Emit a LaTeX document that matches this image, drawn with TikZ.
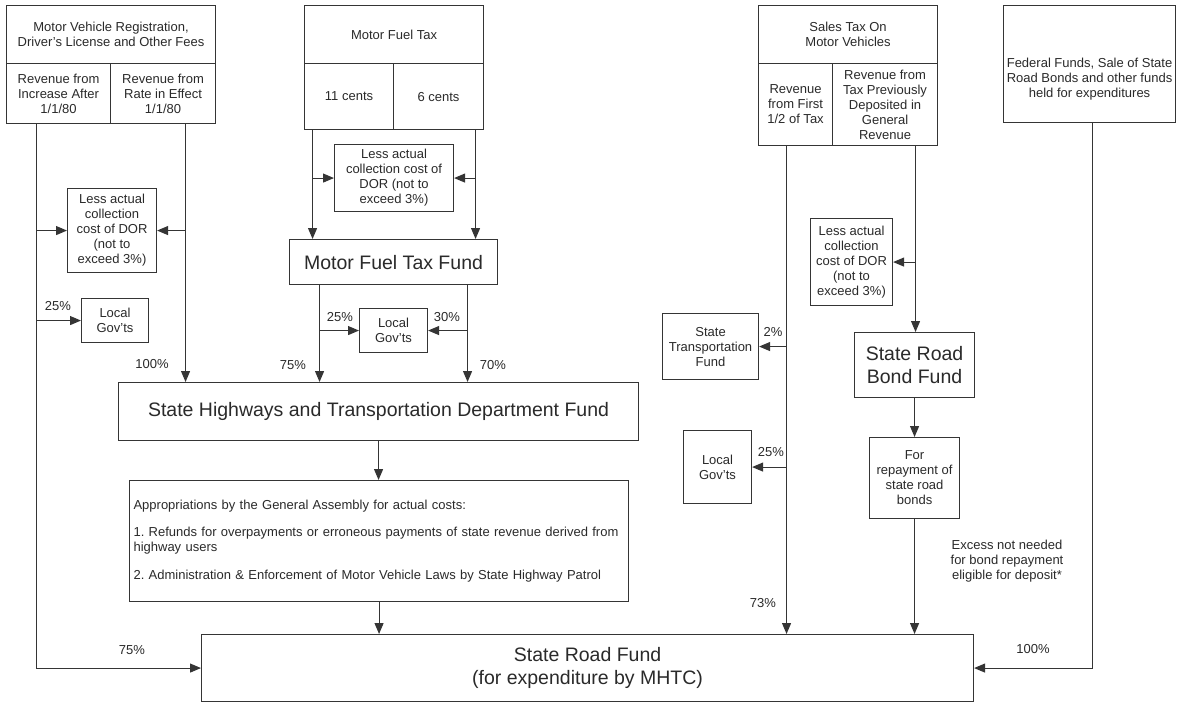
\documentclass[tikz,border=0pt]{standalone}
\usepackage{fontspec}
\setmainfont{Liberation Sans}
\usetikzlibrary{arrows.meta,calc}
\definecolor{ink}{HTML}{2A2A2A}
\definecolor{lc}{HTML}{353535}
\newcommand\smfont{\fontsize{13}{15}\selectfont}
\newcommand\bgfont{\fontsize{19.5}{22.5}\selectfont}
\frenchspacing
\begin{document}
\begin{tikzpicture}[x=1pt,y=-1pt,
  box/.style={draw=lc,line width=1.1pt,inner sep=0pt,align=center,anchor=north west,text=ink,font=\smfont},
  lbl/.style={inner sep=0pt,align=center,text=ink,font=\smfont},
  arr/.style={draw=lc,line width=1.1pt,-{Triangle[length=11pt,width=9pt]}}]
\fill[white] (0,0) rectangle (1179,702);
\useasboundingbox (0,0) rectangle (1179,702);

% --- source boxes ---
\node[box,minimum width=209pt,minimum height=58pt] (mvH) at (6,5) {Motor Vehicle Registration,\\Driver's License and Other Fees};
\node[box,minimum width=104pt,minimum height=60pt] (mvL) at (6,63) {Revenue from\\Increase After\\1/1/80};
\node[box,minimum width=105pt,minimum height=60pt] (mvR) at (110,63) {Revenue from\\Rate in Effect\\1/1/80};

\node[box,minimum width=179pt,minimum height=58pt] (mfH) at (304,5) {Motor Fuel Tax};
\node[box,minimum width=89pt,minimum height=66pt] (mfL) at (304,63) {11 cents};
\node[box,minimum width=90pt,minimum height=66pt] (mfR) at (393,63) {6 cents};

\node[box,minimum width=179pt,minimum height=58pt] (stH) at (758,5) {Sales Tax On\\Motor Vehicles};
\node[box,minimum width=74pt,minimum height=82pt] (stL) at (758,63) {Revenue\\from First\\1/2 of Tax};
\node[box,minimum width=105pt,minimum height=82pt] (stR) at (832,63) {Revenue from\\Tax Previously\\Deposited in\\General\\Revenue};

\node[box,minimum width=172pt,minimum height=117pt] (fed) at (1003,5) {};
\node[lbl] (fedT) at ($(fed.center)+(0,15)$) {Federal Funds, Sale of State\\Road Bonds and other funds\\held for expenditures};

% --- collection cost boxes ---
\node[box,minimum width=89pt,minimum height=84pt] (lessA) at (67,188) {Less actual\\collection\\cost of DOR\\(not to\\exceed 3\%)};
\node[box,minimum width=119pt,minimum height=67pt] (lessB) at (334,144) {Less actual\\collection cost of\\DOR (not to\\exceed 3\%)};
\node[box,minimum width=82pt,minimum height=87pt] (lessC) at (810,218) {Less actual\\collection\\cost of DOR\\(not to\\exceed 3\%)};

% --- intermediate boxes ---
\node[box,font=\bgfont,minimum width=208pt,minimum height=45pt] (mff) at (289,239) {Motor Fuel Tax Fund};
\node[box,minimum width=67pt,minimum height=44pt] (locA) at (81,298) {Local\\Gov'ts};
\node[box,minimum width=68pt,minimum height=44pt] (locB) at (359,308) {Local\\Gov'ts};
\node[box,minimum width=96pt,minimum height=66pt] (stf) at (662,313) {State\\Transportation\\Fund};
\node[box,minimum width=68pt,minimum height=73pt] (locC) at (683,430) {Local\\Gov'ts};
\node[box,font=\bgfont,minimum width=120pt,minimum height=65pt] (srbf) at (854,332) {State Road\\Bond Fund};
\node[box,minimum width=90pt,minimum height=81pt] (rep) at (869,437) {For\\repayment of\\state road\\bonds};
\node[box,font=\bgfont,minimum width=520pt,minimum height=58pt] (htd) at (118,382) {State Highways and Transportation Department Fund};
\node[box,align=left,text width=491pt,inner xsep=4pt,inner ysep=0pt,minimum height=121pt] (app) at (129,480)
  {Appropriations by the General Assembly for actual costs:\\[12pt]
   1. Refunds for overpayments or erroneous payments of state revenue derived from\\
   highway users\\[13pt]
   2. Administration \& Enforcement of Motor Vehicle Laws by State Highway Patrol};
\node[box,font=\bgfont,minimum width=772pt,minimum height=67pt] (srf) at (201,634) {State Road Fund\\(for expenditure by MHTC)};

% --- motor vehicle fees flows ---
\draw[arr] (mvL.south) ++(-22,0) coordinate (a1) |- (srf.west);
\draw[arr] (a1 |- lessA.west) -- (lessA.west);
\draw[arr] (a1 |- locA.west) -- (locA.west);
\draw[arr] (mvR.south) ++(22.5,0) coordinate (a2) -- (a2 |- htd.north);
\draw[arr] (a2 |- lessA.east) -- (lessA.east);

% --- motor fuel tax flows ---
\draw[arr] (mfL.south) ++(-36.5,0) coordinate (b1) -- (b1 |- mff.north);
\draw[arr] (b1 |- lessB.west) -- (lessB.west);
\draw[arr] (mfR.south) ++(37,0) coordinate (b2) -- (b2 |- mff.north);
\draw[arr] (b2 |- lessB.east) -- (lessB.east);
\draw[arr] (mff.south) ++(-74,0) coordinate (b3) -- (b3 |- htd.north);
\draw[arr] (b3 |- locB.west) -- (locB.west);
\draw[arr] (mff.south) ++(74,0) coordinate (b4) -- (b4 |- htd.north);
\draw[arr] (b4 |- locB.east) -- (locB.east);

% --- HTD fund flows ---
\draw[arr] (htd.south) -- (htd.south |- app.north);
\draw[arr] (app.south) -- (app.south |- srf.north);

% --- sales tax flows ---
\draw[arr] (stL.south) ++(-9,0) coordinate (c1) -- (c1 |- srf.north);
\draw[arr] (c1 |- stf.east) -- (stf.east);
\draw[arr] (c1 |- locC.east) -- (locC.east);
\draw[arr] (stR.south) ++(30.5,0) coordinate (c2) -- (c2 |- srbf.north);
\draw[arr] (c2 |- lessC.east) -- (lessC.east);
\draw[arr] (srbf.south) -- (srbf.south |- rep.north);
\draw[arr] (rep.south) -- (rep.south |- srf.north);

% --- federal funds ---
\draw[arr] (fed.south) ++(3,0) coordinate (d1) |- (srf.east);

% --- labels ---
\node[lbl] (pA1) at (58,306) {25\%};
\node[lbl] (pA2) at (152,364) {100\%};
\node[lbl] (pA3) at (132,650) {75\%};
\node[lbl] (pB1) at (340,317) {25\%};
\node[lbl] (pB2) at (447,317) {30\%};
\node[lbl] (pB3) at (293,365) {75\%};
\node[lbl] (pB4) at (493,365) {70\%};
\node[lbl] (pC1) at (773,332) {2\%};
\node[lbl] (pC2) at (771,452) {25\%};
\node[lbl] (pC3) at (763,603) {73\%};
\node[lbl] (pD1) at (1033,649) {100\%};
\node[lbl] (exc) at (1007,561) {Excess not needed\\for bond repayment\\eligible for deposit*};
\end{tikzpicture}
\end{document}
